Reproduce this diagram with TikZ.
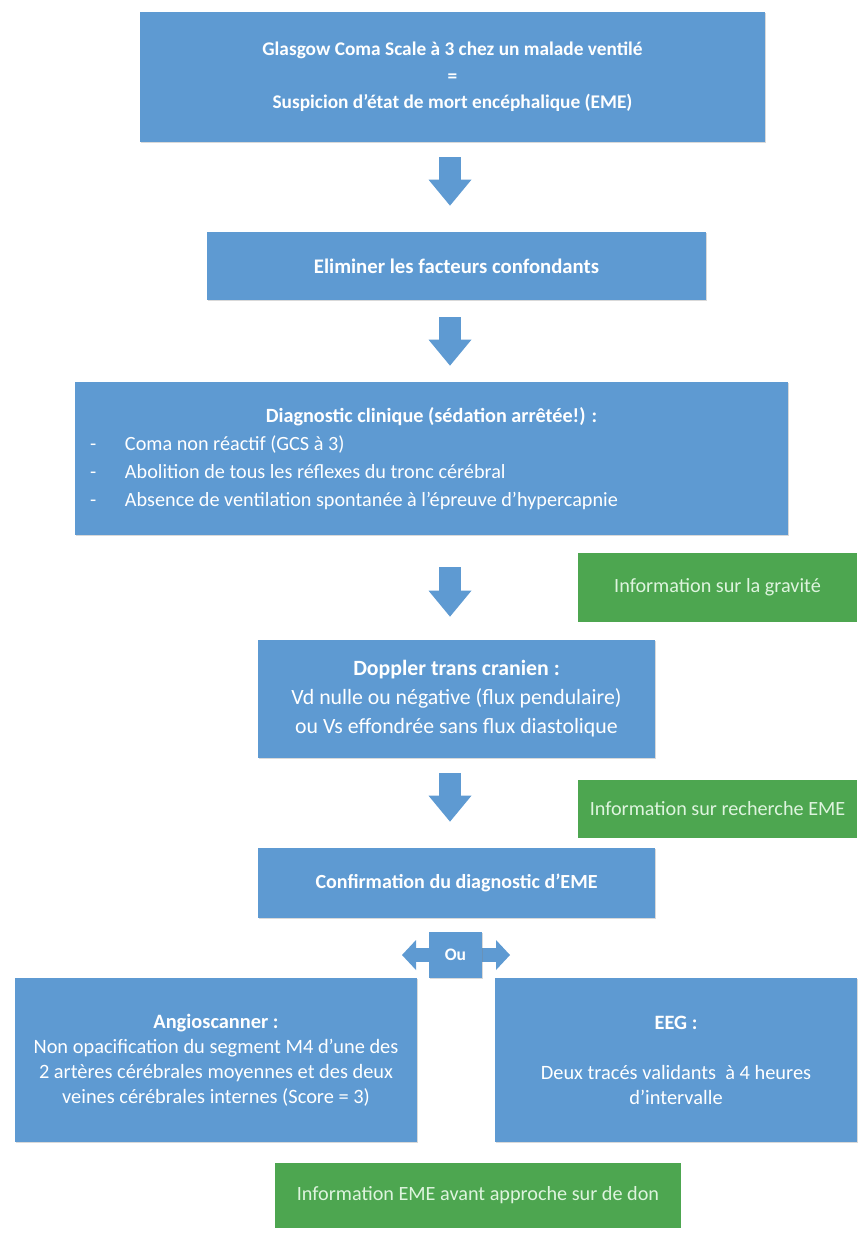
\documentclass[tikz,border=0pt]{standalone}
\usepackage{fontspec}
\setmainfont{Carlito}
\usetikzlibrary{arrows.meta,shadows}

\definecolor{boxblue}{RGB}{94,154,210}
\definecolor{boxgreen}{RGB}{77,166,80}
\definecolor{greentext}{RGB}{222,244,222}

\tikzstyle{every node}=[font=\fontsize{11.5}{15.5}\selectfont]
\tikzstyle{bluebox}=[rectangle, fill=boxblue, text=white, inner sep=0pt, align=center,
    drop shadow={shadow xshift=0.6pt, shadow yshift=-0.8pt, opacity=0.3}]
\tikzstyle{greenbox}=[rectangle, fill=boxgreen, text=greentext, inner sep=0pt, align=center]
\tikzstyle{downarrow}=[draw=boxblue, line width=0.44cm, -{Triangle[width=0.86cm, length=0.52cm, line width=0pt]}]
\tikzstyle{sidearrow}=[draw=boxblue, line width=0.28cm, -{Triangle[width=0.6cm, length=0.28cm, line width=0pt]}]

\newcommand{\cliniqueline}[1]{\makebox[14.26cm][l]{\hspace*{0.3cm}\makebox[0.7cm][l]{-}#1}}

\begin{document}
\begin{tikzpicture}
    \useasboundingbox (0,0) rectangle (17.14,-24.72);
    \coordinate (axis) at (9.0,0);

    % main column
    \node[bluebox, minimum width=12.5cm, minimum height=2.6cm, font=\bfseries\fontsize{11}{15}\selectfont] (gcs) at (9.05,-1.54)
        {Glasgow Coma Scale à 3 chez un malade ventilé\\=\\Suspicion d’état de mort encéphalique (EME)};
    \node[bluebox, minimum width=9.98cm, minimum height=1.36cm, font=\bfseries\fontsize{11.8}{15}\selectfont] (facteurs) at (9.13,-5.32)
        {Eliminer les facteurs confondants};
    \node[bluebox, minimum width=14.26cm, minimum height=3.06cm, font=\fontsize{11.5}{16}\selectfont] (clinique) at (8.63,-9.17)
        {\makebox[14.26cm]{\bfseries Diagnostic clinique (sédation arrêtée!) :}\\
         \cliniqueline{Coma non réactif (GCS à 3)}\\
         \cliniqueline{Abolition de tous les réflexes du tronc cérébral}\\
         \cliniqueline{Absence de ventilation spontanée à l’épreuve d’hypercapnie}};
    \node[bluebox, minimum width=7.94cm, minimum height=2.36cm, font=\fontsize{12.4}{16.5}\selectfont] (doppler) at (9.13,-13.98)
        {\textbf{Doppler trans cranien :}\\Vd nulle ou négative (flux pendulaire)\\ou Vs effondrée sans flux diastolique};
    \node[bluebox, minimum width=7.94cm, minimum height=1.4cm, font=\bfseries\fontsize{11.4}{15}\selectfont] (confirm) at (9.13,-17.66)
        {Confirmation du diagnostic d’EME};

    % information boxes
    \node[greenbox, minimum width=5.58cm, minimum height=1.38cm] (gravite) at (14.35,-11.75)
        {Information sur la gravité};
    \node[greenbox, minimum width=5.58cm, minimum height=1.16cm] (recherche) at (14.35,-16.18)
        {Information sur recherche EME};
    \node[greenbox, minimum width=8.12cm, minimum height=1.3cm] (don) at (9.56,-23.91)
        {Information EME avant approche sur de don};

    % flow arrows
    \draw[downarrow, shorten <=0.3cm, shorten >=0.52cm] (gcs.south -| axis) -- (facteurs.north -| axis);
    \draw[downarrow, shorten <=0.34cm, shorten >=0.32cm] (facteurs.south -| axis) -- (clinique.north -| axis);
    \draw[downarrow, shorten <=0.64cm, shorten >=0.46cm] (clinique.south -| axis) -- (doppler.north -| axis);
    \draw[downarrow, shorten <=0.3cm, shorten >=0.52cm] (doppler.south -| axis) -- (confirm.north -| axis);

    % two exams
    \coordinate (ouL) at (8.04,-19.1);
    \coordinate (ouR) at (10.2,-19.1);
    \draw[sidearrow] (9.11,-19.1) -- (ouL);
    \draw[sidearrow] (9.11,-19.1) -- (ouR);
    \node[bluebox, minimum width=1.06cm, minimum height=0.92cm, font=\bfseries\fontsize{10}{12}\selectfont] (ou) at (9.11,-19.1) {Ou};

    \node[bluebox, minimum width=8.04cm, minimum height=3.28cm, font=\fontsize{11.6}{14.2}\selectfont] (angio) at (4.32,-21.2)
        {\textbf{Angioscanner :}\\Non opacification du segment M4 d’une des\\2 artères cérébrales moyennes et des deux\\veines cérébrales internes (Score = 3)};
    \node[bluebox, minimum width=7.24cm, minimum height=3.28cm, font=\fontsize{11.6}{14.2}\selectfont] (eeg) at (13.52,-21.2)
        {\textbf{EEG :}\\[14.2pt]Deux tracés validants~ à 4 heures\\d’intervalle};
\end{tikzpicture}
\end{document}
